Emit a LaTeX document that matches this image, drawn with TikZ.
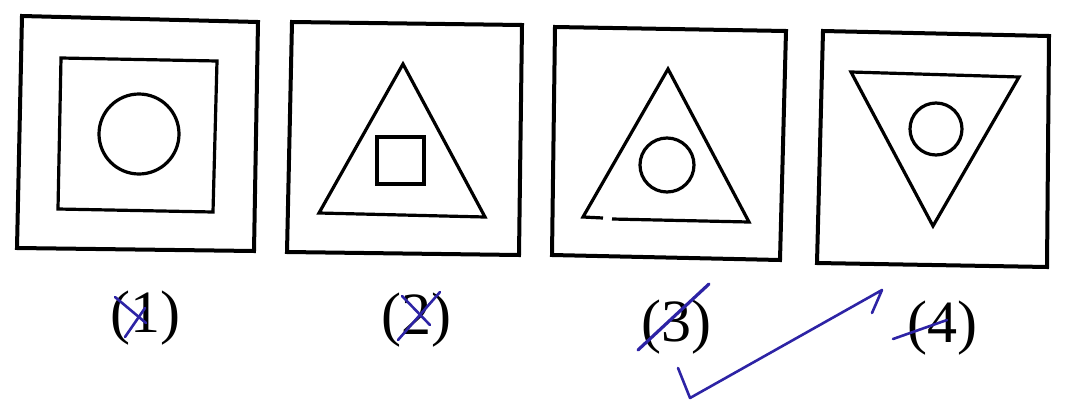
\documentclass[tikz,border=0pt]{standalone}
\usepackage{fontspec}
\setmainfont{Liberation Serif}
\definecolor{penblue}{RGB}{45,35,165}
\tikzset{
  frame/.style={draw=black, line width=4pt, line join=miter},
  figline/.style={draw=black, line width=3.2pt, line join=miter},
  lab/.style={font=\fontsize{60}{64}\selectfont, inner sep=0pt, text=black},
  pen/.style={draw=penblue, line width=2.6pt, line cap=round, line join=round}
}
\begin{document}
\begin{tikzpicture}[x=1pt,y=-1pt]
\useasboundingbox (0,0) rectangle (1066,402);
% figure 1
\draw[frame] (22,16) -- (258,22) -- (254,251) -- (17,248) -- cycle;
\draw[figline] (61,58) -- (217,61) -- (213,212) -- (58,209) -- cycle;
\draw[figline] (139,134) circle (40);
% figure 2
\draw[frame] (292,22) -- (522,25) -- (519,255) -- (287,252) -- cycle;
\draw[figline] (403,64) -- (485,217) -- (319,213) -- cycle;
\draw[figline] (377,137) rectangle (424,184);
% figure 3
\draw[frame] (555,27) -- (786,31) -- (780,260) -- (552,255) -- cycle;
\draw[figline] (603,218) -- (583,217) -- (668,69) -- (749,222) -- (612,219);
\draw[figline] (667,165) circle (27);
% figure 4
\draw[frame] (823,31) -- (1049,36) -- (1047,267) -- (817,263) -- cycle;
\draw[figline] (851,72) -- (1019,77) -- (933,226) -- cycle;
\draw[figline] (936,129) circle (26);
% labels
\node[lab] (l1) at (145,318) {(1)};
\node[lab] (l2) at (416,320) {(2)};
\node[lab] (l3) at (676,327) {(3)};
\node[lab] (l4) at (942,328) {(4)};
% pen marks
\draw[pen] (115,297) -- (146,323);
\draw[pen] (125,337) -- (145,308);
\draw[pen] (398,340) -- (440,292);
\draw[pen] (402,296) -- (430,325);
\draw[pen, line width=3.2pt] (638,350) -- (709,284);
\draw[pen] (893,339) -- (947,320);
\draw[pen] (678,368) -- (690,398) -- (882,290) -- (872,313);
\end{tikzpicture}
\end{document}
